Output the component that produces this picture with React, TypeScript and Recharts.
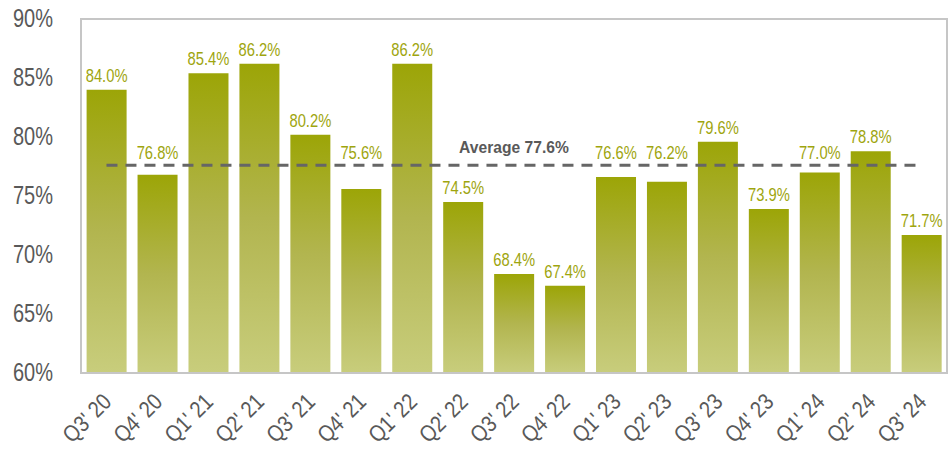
import React from 'react';
import {
  ComposedChart,
  Bar,
  XAxis,
  YAxis,
  LabelList,
  ReferenceLine,
  ReferenceArea,
} from 'recharts';

const QUARTERS = [
  "Q3' 20", "Q4' 20", "Q1' 21", "Q2' 21", "Q3' 21", "Q4' 21", "Q1' 22", "Q2' 22", "Q3' 22",
  "Q4' 22", "Q1' 23", "Q2' 23", "Q3' 23", "Q4' 23", "Q1' 24", "Q2' 24", "Q3' 24",
];
const RATES = [84.0, 76.8, 85.4, 86.2, 80.2, 75.6, 86.2, 74.5, 68.4, 67.4, 76.6, 76.2, 79.6, 73.9, 77.0, 78.8, 71.7];
const AVERAGE = 77.6;
const Y_MIN = 60;
const Y_TICKS = [60, 65, 70, 75, 80, 85, 90];

// no condensed font installed, so Liberation Sans gets squeezed horizontally
const FONT = '"Liberation Sans", Arial, sans-serif';
const OLIVE = '#9ea50e';
const GREY_TEXT = '#595959';
const BORDER = '#c6c6c6';

const data = QUARTERS.map((q, i) => ({ quarter: q, rate: RATES[i] }));

interface NarrowTextProps {
  x: number;
  y: number;
  size: number;
  squeeze: number;
  anchor?: 'start' | 'middle' | 'end';
  angle?: number;
  bold?: boolean;
  fill?: string;
  baseline?: string;
  children: React.ReactNode;
}

const NarrowText: React.FC<NarrowTextProps> = ({
  x, y, size, squeeze, anchor = 'middle', angle = 0, bold, fill = GREY_TEXT, baseline, children,
}) => (
  <text
    transform={`translate(${x}, ${y}) rotate(${angle}) scale(${squeeze}, 1)`}
    textAnchor={anchor}
    dominantBaseline={baseline}
    fontFamily={FONT}
    fontSize={size}
    fontWeight={bold ? 'bold' : 'normal'}
    fill={fill}
  >
    {children}
  </text>
);

const QuarterTick = (props: any) => {
  const { x, y, payload } = props;
  return (
    <NarrowText x={x + 2} y={y + 24} size={23} squeeze={0.86} anchor="end" angle={-45} baseline="middle">
      {payload.value}
    </NarrowText>
  );
};

const PercentTick = (props: any) => {
  const { x, y, payload } = props;
  return (
    <NarrowText x={x} y={y} size={25} squeeze={0.8} anchor="end" baseline="central">
      {`${payload.value}%`}
    </NarrowText>
  );
};

const ValueLabel = (props: any) => {
  const { x, y, width, height, value } = props;
  const v = Number(value);
  // labels that would sit on the average line are lifted above it
  const pxPerUnit = height / (v - Y_MIN);
  const lineY = y + height - (AVERAGE - Y_MIN) * pxPerUnit;
  let base = y - 8;
  if (base + 3 > lineY - 2 && base - 14 < lineY + 2) base = lineY - 6;
  return (
    <NarrowText x={x + width / 2} y={base} size={18} squeeze={0.82} fill={OLIVE}>
      {`${v.toFixed(1)}%`}
    </NarrowText>
  );
};

const AverageLabel = (props: any) => {
  const { viewBox } = props;
  const cx = viewBox.x + viewBox.width / 2;
  return (
    <NarrowText x={cx} y={viewBox.y - 12} size={17} squeeze={0.92} bold>
      {`Average ${AVERAGE}%`}
    </NarrowText>
  );
};

export default function App() {
  return (
    <div style={{ position: 'absolute', left: 0, top: 0, width: 952, height: 450, background: '#fff' }}>
      <ComposedChart
        width={952}
        height={450}
        data={data}
        margin={{ top: 19, right: 5, bottom: 0, left: 0 }}
        barCategoryGap="11%"
      >
        <defs>
          <linearGradient id="barFill" x1="0" y1="0" x2="0" y2="1">
            <stop offset="0%" stopColor="#9ca507" />
            <stop offset="50%" stopColor="#b2b54f" />
            <stop offset="100%" stopColor="#c8cd7c" />
          </linearGradient>
        </defs>
        <XAxis
          dataKey="quarter"
          height={77}
          interval={0}
          tick={<QuarterTick />}
          tickLine={false}
          tickSize={0}
          axisLine={{ stroke: BORDER, strokeWidth: 2 }}
        />
        <YAxis
          domain={[Y_MIN, 90]}
          ticks={Y_TICKS}
          width={81}
          tick={<PercentTick />}
          tickLine={false}
          tickSize={0}
          tickMargin={28}
          axisLine={{ stroke: BORDER, strokeWidth: 2 }}
        />
        <ReferenceArea
          x1={QUARTERS[0]}
          x2={QUARTERS[QUARTERS.length - 1]}
          y1={Y_MIN}
          y2={90}
          fill="none"
          stroke={BORDER}
          strokeWidth={2}
        />
        <Bar dataKey="rate" fill="url(#barFill)" isAnimationActive={false}>
          <LabelList dataKey="rate" content={<ValueLabel />} />
        </Bar>
        <ReferenceLine
          segment={[
            { x: QUARTERS[0], y: AVERAGE },
            { x: QUARTERS[QUARTERS.length - 1], y: AVERAGE },
          ]}
          stroke="#666666"
          strokeWidth={3}
          strokeDasharray="11 8"
          label={<AverageLabel />}
        />
      </ComposedChart>
    </div>
  );
}
